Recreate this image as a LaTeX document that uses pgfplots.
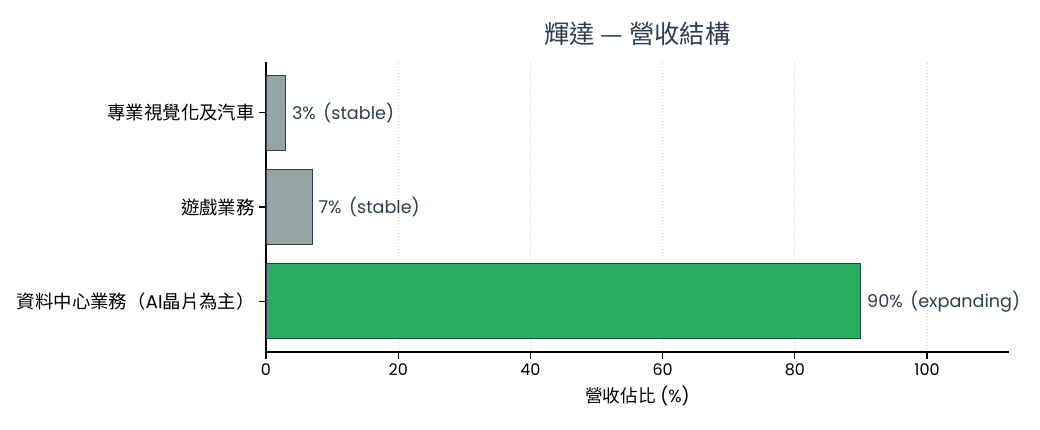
\documentclass[border=0pt]{standalone}
\usepackage{pgfplots}
\pgfplotsset{compat=1.18}
\usepackage{fontspec}
\setmainfont{Poppins}
\newfontfamily\cjk{Noto Sans CJK TC}
\definecolor{dark}{HTML}{2C3E50}
\definecolor{grayb}{HTML}{95A5A6}
\definecolor{greenb}{HTML}{27AE60}
\begin{document}
\begin{tikzpicture}
\useasboundingbox (-199.5pt,-57.75pt) rectangle (580.5pt,264pt);
\begin{axis}[
  at={(0,0)}, anchor=south west,
  scale only axis, width=557.25pt, height=217.5pt,
  xbar, bar shift=0pt, bar width=0.8,
  xmin=0, xmax=112.4, ymin=-0.54, ymax=2.54,
  xtick={0,20,40,60,80,100},
  ytick={0,1,2},
  yticklabels={{\cjk 資料中心業務（}AI{\cjk 晶片為主）},{\cjk 遊戲業務},{\cjk 專業視覺化及汽車}},
  axis x line*=bottom, axis y line*=left,
  axis line style={black, line width=0.9pt},
  tick style={black, line width=0.8pt},
  tick align=outside, major tick length=5pt,
  xmajorgrids, grid style={dotted, gray!40, line width=0.6pt},
  /pgf/number format/assume math mode=true,
  xticklabel style={font=\fontsize{12}{14}\selectfont, black},
  yticklabel style={font=\fontsize{13.8}{16}\selectfont, black},
  xlabel={{\cjk 營收佔比} (\%)},
  xlabel style={font=\fontsize{13.2}{15}\selectfont, black, yshift=-1pt},
  title={\cjk 輝達 — 營收結構},
  title style={font=\fontsize{19}{22}\selectfont, color=dark, yshift=3pt},
  point meta=explicit symbolic,
  nodes near coords,
  nodes near coords style={font=\fontsize{13.2}{15}\selectfont, color=dark, anchor=west, xshift=1pt},
  clip=false,
]
\addplot[fill=greenb, draw=dark, line width=0.7pt] coordinates {(90,0) [90\%\ \,(expanding)]};
\addplot[fill=grayb, draw=dark, line width=0.7pt] coordinates {(7,1) [7\%\ \,(stable)] (3,2) [3\%\ \,(stable)]};
\end{axis}
\end{tikzpicture}
\end{document}
